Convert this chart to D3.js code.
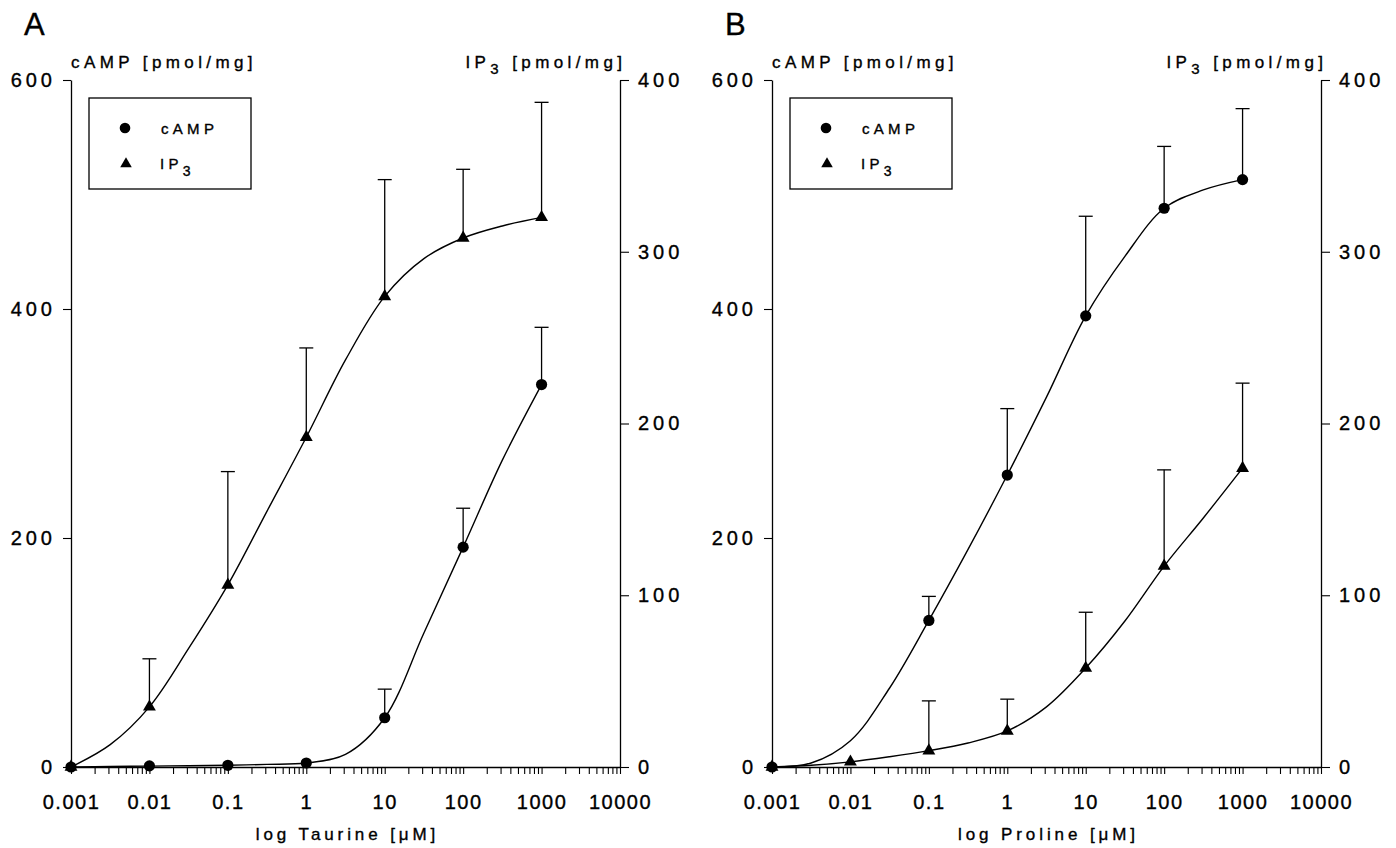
<!DOCTYPE html>
<html>
<head>
<meta charset="utf-8">
<script src="https://cdn.jsdelivr.net/npm/d3@7"></script>
<style>
  html, body { margin: 0; padding: 0; background: #fff; }
  svg { display: block; font-family: "Liberation Sans", Arial, sans-serif; }
  svg text { stroke: #000; stroke-width: 0.35px; }
</style>
</head>
<body>
<svg id="chart" width="1396" height="848"></svg>
<script>
// Agonist concentrations (µM) at which cAMP and IP3 were measured
const concentrations = [0.001, 0.01, 0.1, 1, 10, 100, 1000];
// Half-decade grid on which the fitted dose-response curves are traced
const fitConcentrations = [0.001, 0.00316, 0.01, 0.0316, 0.1, 0.316, 1, 3.16, 10, 31.6, 100, 316, 1000];

// Panel A: taurine (means and SEM, pmol/mg)
const taurineCamp    = [0, 1, 1.5, 3.5, 43, 192, 334];
const taurineCampSem = [0, 0, 0, 0, 25, 34, 50];
const taurineIp3     = [0, 35, 106, 192, 274, 308, 320];
const taurineIp3Sem  = [0, 28, 66, 52, 68, 40, 67];
const taurineCampFit = [0, 0.4, 0.8, 1.1, 1.5, 2.3, 3.5, 11, 43, 117, 192, 268, 334];
const taurineIp3Fit  = [0, 13, 35, 69, 106, 149, 192, 237, 274, 296, 308, 315, 320];

// Panel B: proline (means and SEM, pmol/mg); cAMP was not sampled at 0.01 µM
const prolineCamp    = [0, null, 128, 255, 394, 488, 513];
const prolineCampSem = [0, null, 21, 58, 87, 54, 62];
const prolineIp3     = [0, 3, 9.5, 21, 57.6, 117, 174];
const prolineIp3Sem  = [0, 0, 29, 18.5, 32.5, 56, 49.5];
const prolineCampFit = [0, 3.5, 23, 69, 128, 190, 255, 323, 394, 446, 488, 504, 513];
const prolineIp3Fit  = [0, 1, 3, 6, 9.5, 14, 21, 35, 57.6, 85, 117, 145, 174];

// Axis ticks and labels
const xDecades    = [0.001, 0.01, 0.1, 1, 10, 100, 1000, 10000];
const xTickLabels = ["0.001", "0.01", "0.1", "1", "10", "100", "1000", "10000"];
const campTicks   = [0, 200, 400, 600];
const ip3Ticks    = [0, 100, 200, 300, 400];

const panels = [
  { letter: "A", left: 71,  right: 620,  xTitle: "log Taurine [\u03bcM]",
    camp: taurineCamp, campSem: taurineCampSem, ip3: taurineIp3, ip3Sem: taurineIp3Sem,
    campFit: taurineCampFit, ip3Fit: taurineIp3Fit },
  { letter: "B", left: 772, right: 1321, xTitle: "log Proline [\u03bcM]",
    camp: prolineCamp, campSem: prolineCampSem, ip3: prolineIp3, ip3Sem: prolineIp3Sem,
    campFit: prolineCampFit, ip3Fit: prolineIp3Fit }
];

const TOP = 80, BOTTOM = 767;
const svg = d3.select("#chart");

// minor ticks at 1..9 x each decade
const xMinor = [];
xDecades.forEach((d, i) => {
  if (i < xDecades.length - 1) for (let m = 1; m <= 9; m++) xMinor.push(d * m);
  else xMinor.push(d);
});

function styleAxis(g, fontSize, spacing) {
  g.attr("font-family", null).attr("font-size", null);
  g.select(".domain").attr("stroke", "#000").attr("stroke-width", 1.3);
  g.selectAll(".tick line").attr("stroke", "#000").attr("stroke-width", 1.1);
  g.selectAll(".tick text").attr("fill", "#000")
    .style("font-size", fontSize + "px").style("letter-spacing", spacing + "px");
}

function drawPanel(p) {
  const x  = d3.scaleLog().domain([0.001, 10000]).range([p.left, p.right]);
  const yC = d3.scaleLinear().domain([0, 600]).range([BOTTOM, TOP]);
  const yI = d3.scaleLinear().domain([0, 400]).range([BOTTOM, TOP]);
  const g = svg.append("g");

  // panel letter
  g.append("text").attr("x", p.left - 47).attr("y", 35)
    .style("font-size", "31px").text(p.letter);

  // x axis
  const labelOf = new Map(xDecades.map((d, i) => [d, xTickLabels[i]]));
  g.append("g").attr("transform", `translate(0,${BOTTOM})`)
    .call(d3.axisBottom(x).tickValues(xMinor).tickSize(7).tickSizeOuter(0).tickPadding(21)
      .tickFormat(d => {
        for (const [k, v] of labelOf) if (Math.abs(Math.log10(d) - Math.log10(k)) < 1e-6) return v;
        return "";
      }))
    .call(ax => styleAxis(ax, 20, 1.5));

  // left axis (cAMP)
  g.append("g").attr("transform", `translate(${p.left},0)`)
    .call(d3.axisLeft(yC).tickValues(campTicks).tickSize(8).tickSizeOuter(0).tickPadding(7)
      .tickFormat(d3.format("d")))
    .call(ax => styleAxis(ax, 20, 4));

  // right axis (IP3)
  g.append("g").attr("transform", `translate(${p.right},0)`)
    .call(d3.axisRight(yI).tickValues(ip3Ticks).tickSize(9).tickSizeOuter(0).tickPadding(9)
      .tickFormat(d3.format("d")))
    .call(ax => styleAxis(ax, 20, 4));

  // axis titles
  const ls = 4.4;
  g.append("text").attr("x", p.left).attr("y", 68)
    .style("font-size", "17px").style("letter-spacing", ls + "px")
    .text("cAMP [pmol/mg]");

  const rt = g.append("text").attr("x", p.right + 2 + ls).attr("y", 68)
    .attr("text-anchor", "end")
    .style("font-size", "17px").style("letter-spacing", ls + "px");
  rt.append("tspan").text("IP");
  rt.append("tspan").attr("dy", 6).style("font-size", "15px").text("3");
  rt.append("tspan").attr("dy", -6).text(" [pmol/mg]");

  g.append("text").attr("x", (p.left + p.right) / 2 + 2).attr("y", 840)
    .attr("text-anchor", "middle")
    .style("font-size", "17px").style("letter-spacing", "3.9px")
    .text(p.xTitle);

  // legend
  const lx = p.left + 18, ly = 98;
  g.append("rect").attr("x", lx).attr("y", ly).attr("width", 162).attr("height", 91)
    .attr("fill", "#fff").attr("stroke", "#000").attr("stroke-width", 1.3);
  g.append("circle").attr("cx", lx + 36).attr("cy", ly + 30).attr("r", 5.3).attr("fill", "#000");
  g.append("text").attr("x", lx + 72).attr("y", ly + 35.5)
    .style("font-size", "15px").style("letter-spacing", "4.3px").text("cAMP");
  g.append("path").attr("transform", `translate(${lx + 37},${ly + 66})`)
    .attr("d", d3.symbol().type(d3.symbolTriangle).size(58)()).attr("fill", "#000");
  const lt = g.append("text").attr("x", lx + 71).attr("y", ly + 71)
    .style("font-size", "15px").style("letter-spacing", "4.3px");
  lt.append("tspan").text("IP");
  lt.append("tspan").attr("dy", 7).style("font-size", "14px").text("3");

  // series records
  const series = [
    { y: yC, vals: p.camp, sem: p.campSem, fit: p.campFit, shape: "circle" },
    { y: yI, vals: p.ip3,  sem: p.ip3Sem,  fit: p.ip3Fit,  shape: "triangle" }
  ];

  const line = d3.line().curve(d3.curveCatmullRom.alpha(0.5));
  series.forEach(s => {
    const pts = concentrations.map((c, i) => ({ c, v: s.vals[i], e: s.sem[i] }))
      .filter(d => d.v !== null);

    // error bars (upper half only)
    pts.filter(d => d.e > 0).forEach(d => {
      const cx = x(d.c), y0 = s.y(d.v), y1 = s.y(d.v + d.e);
      g.append("line").attr("x1", cx).attr("x2", cx).attr("y1", y0).attr("y2", y1)
        .attr("stroke", "#000").attr("stroke-width", 1.3);
      g.append("line").attr("x1", cx - 7).attr("x2", cx + 7).attr("y1", y1).attr("y2", y1)
        .attr("stroke", "#000").attr("stroke-width", 1.3);
    });

    // fitted curve
    g.append("path")
      .attr("d", line(fitConcentrations.map((c, i) => [x(c), s.y(s.fit[i])])))
      .attr("fill", "none").attr("stroke", "#000").attr("stroke-width", 1.4);

    // markers
    pts.forEach(d => {
      if (s.shape === "circle") {
        g.append("circle").attr("cx", x(d.c)).attr("cy", s.y(d.v)).attr("r", 5.6).attr("fill", "#000");
      } else {
        g.append("path").attr("transform", `translate(${x(d.c)},${s.y(d.v)})`)
          .attr("d", d3.symbol().type(d3.symbolTriangle).size(72)()).attr("fill", "#000");
      }
    });
  });
}

panels.forEach(drawPanel);
</script>
</body>
</html>
